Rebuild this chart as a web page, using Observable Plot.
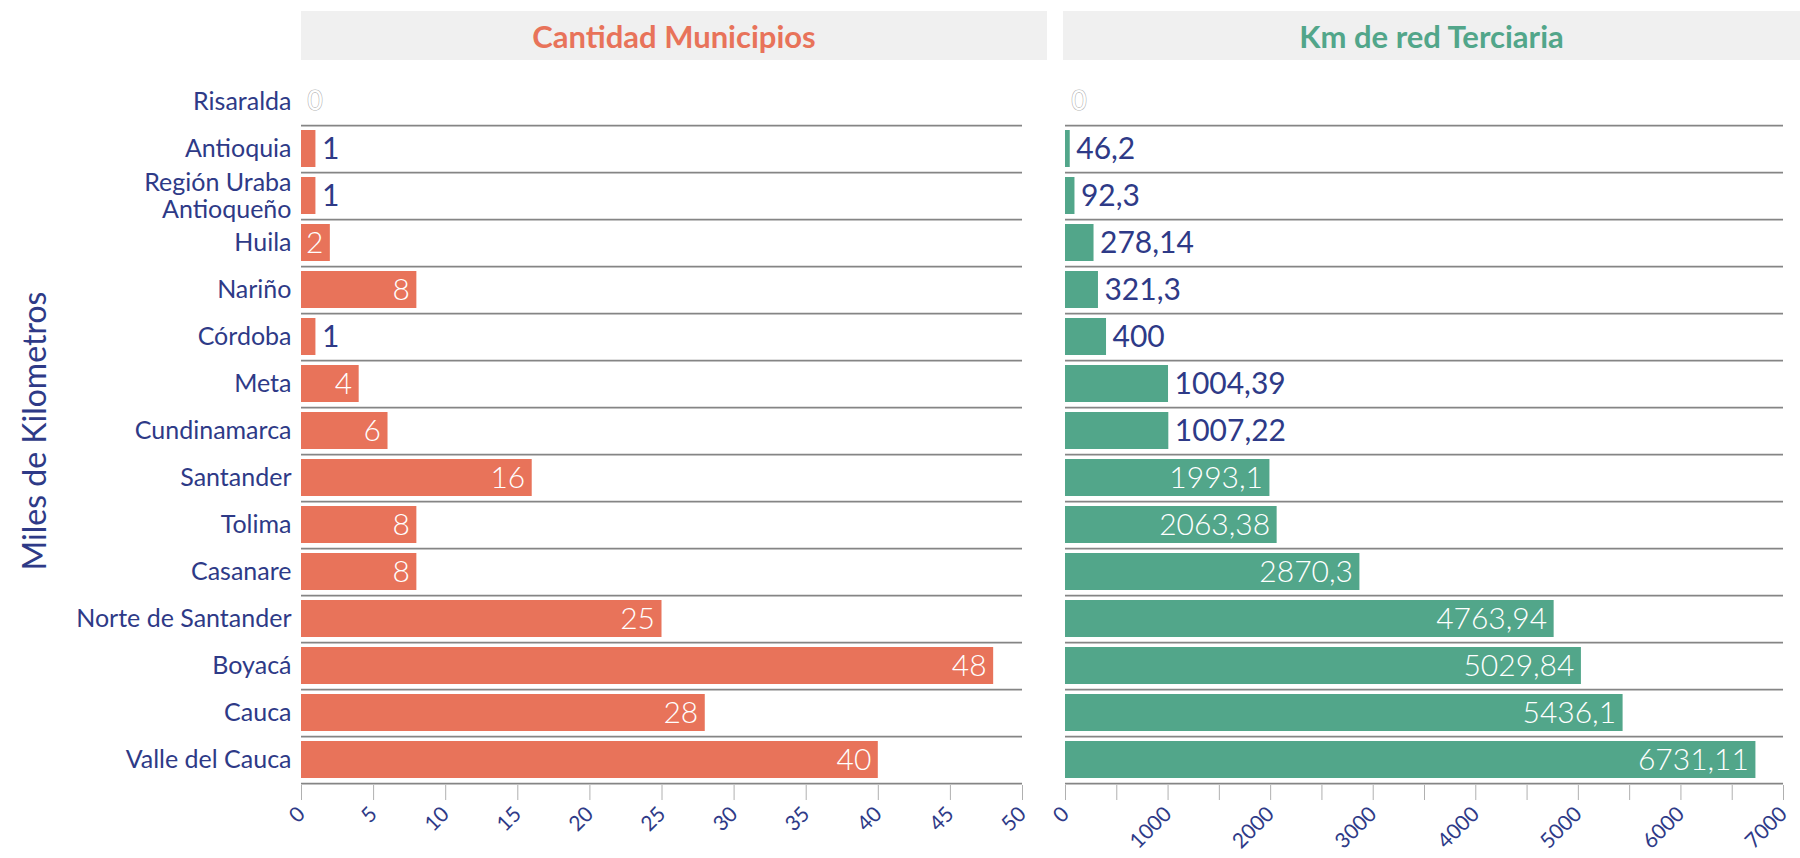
<!DOCTYPE html>
<html><head><meta charset="utf-8">
<script src="https://cdn.jsdelivr.net/npm/d3@7"></script>
<script src="https://cdn.jsdelivr.net/npm/@observablehq/plot@0.6"></script>
<style>
body{margin:0;background:#fff;font-family:Lato,"Noto Sans",sans-serif}
#wrap{position:relative;width:1800px;height:858px;overflow:hidden;background:#fff}
.strip{position:absolute;top:11px;height:49px;background:#f0f0f0;display:flex;align-items:center;justify-content:center;font-weight:700;font-size:31px;font-family:Lato,sans-serif}
.panel{position:absolute;top:0}
</style></head><body>
<div id="wrap">
  <div class="strip" id="t1" style="left:301px;width:746px;color:#e8735a"></div>
  <div class="strip" id="t2" style="left:1063px;width:737px;color:#52a68a"></div>
  <div class="panel" id="p1" style="left:0"></div>
  <div class="panel" id="p2" style="left:1047px"></div>
</div>
<script>
const departamentos = ["Risaralda","Antioquia","Región Uraba\nAntioqueño","Huila","Nariño","Córdoba","Meta","Cundinamarca","Santander","Tolima","Casanare","Norte de Santander","Boyacá","Cauca","Valle del Cauca"];
const municipios = [0,1,1,2,8,1,4,6,16,8,8,25,48,28,40];
const kmRed = [0,46.2,92.3,278.14,321.3,400,1004.39,1007.22,1993.1,2063.38,2870.3,4763.94,5029.84,5436.1,6731.11];
const ticksMunicipios = [0,5,10,15,20,25,30,35,40,45,50];
const ticksKm = [0,500,1000,1500,2000,2500,3000,3500,4000,4500,5000,5500,6000,6500,7000];
const panelTitles = ["Cantidad Municipios","Km de red Terciaria"];
const yTitle = "Miles de Kilometros";

document.getElementById("t1").textContent = panelTitles[0];
document.getElementById("t2").textContent = panelTitles[1];

const NAVY = "#2e3a87";
const H = 858, MT = 76, MB = 73;
const PI = 0.22, PO = 0.11;
const step = (H - MT - MB) / (departamentos.length - PI + 2 * PO);
const fmt = v => String(v).replace(".", ",");

function panel({values, domain, ticks, tickFormat, color, width, ml, mr, threshold, showY}) {
  const data = departamentos.map((d, i) => ({dep: d, v: values[i]}));
  const marks = [
    Plot.ruleY(departamentos, {y: d => d, dy: step / 2, stroke: "#858585", strokeWidth: 1.7}),
    Plot.barX(data, {x: "v", y: "dep", fill: color}),
    Plot.text(data.filter(d => d.v > 0 && d.v < threshold), {x: "v", y: "dep", text: d => fmt(d.v), textAnchor: "start", dx: 6, fill: NAVY, fontSize: 30}),
    Plot.text(data.filter(d => d.v >= threshold), {x: "v", y: "dep", text: d => fmt(d.v), textAnchor: "end", dx: -7, fill: "white", fontSize: 30, fontWeight: 300}),
    Plot.text(data.filter(d => d.v === 0), {x: "v", y: "dep", text: d => fmt(d.v), textAnchor: "start", dx: 6, fill: "white", stroke: "#b5b5b5", strokeWidth: 1.2, fontSize: 26}),
    Plot.axisX({ticks, tickFormat, tickSize: 15, tickPadding: 10, tickRotate: -45, fontSize: 21, stroke: "#b0b0b0", color: NAVY})
  ];
  if (showY) {
    marks.push(Plot.ruleX([0], {stroke: "#a0a0a0", strokeWidth: 2, dx: -2, y1: departamentos[0], y2: departamentos[departamentos.length - 1], insetTop: -step / 2 - 6, insetBottom: -step / 2}));
    marks.push(Plot.axisY({tickSize: 0, tickPadding: 10, fontSize: 25, lineHeight: 1.06, color: NAVY, label: null}));
    marks.push(Plot.text([yTitle], {frameAnchor: "left", textAnchor: "middle", rotate: -90, dx: -266, fontSize: 32, fill: NAVY}));
  } else {
    marks.push(Plot.axisY({ticks: [], label: null}));
  }
  return Plot.plot({
    width, height: H,
    marginTop: MT, marginBottom: MB, marginLeft: ml, marginRight: mr,
    style: {fontFamily: "Lato, 'Noto Sans', sans-serif", color: NAVY, background: "transparent", overflow: "visible"},
    x: {domain, label: null},
    y: {domain: departamentos, paddingInner: PI, paddingOuter: PO, label: null},
    marks
  });
}

document.getElementById("p1").appendChild(panel({
  values: municipios, domain: [0, 50], ticks: ticksMunicipios, tickFormat: d => String(d),
  color: "#e8735a", width: 1047, ml: 301, mr: 25, threshold: 1.5, showY: true
}));
document.getElementById("p2").appendChild(panel({
  values: kmRed, domain: [0, 7000], ticks: ticksKm, tickFormat: d => d % 1000 === 0 ? String(d) : "",
  color: "#52a68a", width: 753, ml: 18, mr: 17, threshold: 1500, showY: false
}));
</script>
</body></html>
